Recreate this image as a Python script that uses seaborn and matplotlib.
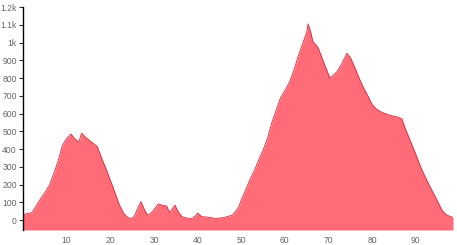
import matplotlib
matplotlib.use("Agg")
import matplotlib.pyplot as plt
import seaborn as sns
import pandas as pd

dist = [0, 0.5, 1, 2, 3, 4, 5, 6, 7, 8, 9, 10, 11, 11.8, 12.8, 13.4, 14.4, 15.7, 17, 18,
        19, 20, 21, 22, 23, 24, 25, 25.6, 26.5, 27, 27.9, 28.6, 29.5, 30.5, 31, 31.8, 32.9,
        33.6, 34.3, 34.8, 35.5, 36.4, 37.5, 38.7, 39.5, 40, 41, 42, 43, 44, 45, 46, 47, 48,
        48.5, 49, 49.5, 50, 51, 52, 53, 54, 55, 56, 57, 58, 59, 60, 61, 62, 63, 64, 65, 65.3,
        66, 66.4, 67, 67.6, 68, 68.7, 69.5, 70.3, 71, 71.9, 73, 74.2, 75, 76, 77, 78, 79, 80,
        81, 82, 83, 84, 85, 86, 86.8, 87.5, 88, 89, 90, 91, 92, 93, 94, 95, 96, 97, 98, 98.5]
elev = [15, 35, 38, 42, 80, 120, 155, 195, 260, 330, 420, 460, 485, 460, 440, 490, 465, 440, 415, 350,
        290, 225, 160, 90, 40, 15, 10, 28, 80, 105, 55, 28, 45, 75, 92, 85, 80,
        42, 70, 85, 50, 20, 12, 10, 25, 40, 20, 18, 15, 10, 12, 15, 22, 30,
        45, 60, 80, 115, 170, 230, 280, 340, 395, 460, 550, 620, 690, 730, 775, 840, 920, 990, 1060, 1105,
        1050, 1005, 990, 970, 945, 900, 850, 800, 815, 835, 880, 940, 915, 860, 800, 745, 700, 650,
        625, 610, 600, 592, 585, 580, 570, 520, 490, 430, 370, 305, 250, 200, 152, 105, 55, 30, 20, 15]
y_ticks = [0, 100, 200, 300, 400, 500, 600, 700, 800, 900, 1000, 1100, 1200]
y_labels = ["0", "100", "200", "300", "400", "500", "600", "700", "800", "900", "1k", "1.1k", "1.2k"]
x_ticks = [10, 20, 30, 40, 50, 60, 70, 80, 90]

df = pd.DataFrame({"dist": dist, "elev": elev})

sns.set_style("white")
plt.rcParams["font.family"] = ["Liberation Sans", "DejaVu Sans"]
fig = plt.figure(figsize=(4.57, 2.45), dpi=100)
ax = fig.add_axes([23 / 457, 1 - 230 / 245, 430 / 457, 223 / 245])
ymin = -55
ax.fill_between(df["dist"], df["elev"], ymin, color="#ff6b77", linewidth=0, zorder=1)
sns.lineplot(data=df, x="dist", y="elev", ax=ax, color="#d42a3c", linewidth=0.6, zorder=2)

ax.set_xlim(0, 98.5)
ax.set_ylim(ymin, 1200)
ax.set_xticks(x_ticks)
ax.set_xticklabels([str(t) for t in x_ticks])
ax.set_yticks(y_ticks)
ax.set_yticklabels(y_labels)
ax.set_xlabel("")
ax.set_ylabel("")
for s in ["top", "right", "bottom"]:
    ax.spines[s].set_visible(False)
ax.spines["left"].set_color("black")
ax.spines["left"].set_linewidth(1.0)
ax.tick_params(axis="y", length=3, width=0.8, color="#333333", labelsize=6.2,
               labelcolor="#666666", pad=1.5, left=True)
ax.tick_params(axis="x", length=0, labelsize=6.2, labelcolor="#666666", pad=4)
fig.savefig("out.png", dpi=100)
